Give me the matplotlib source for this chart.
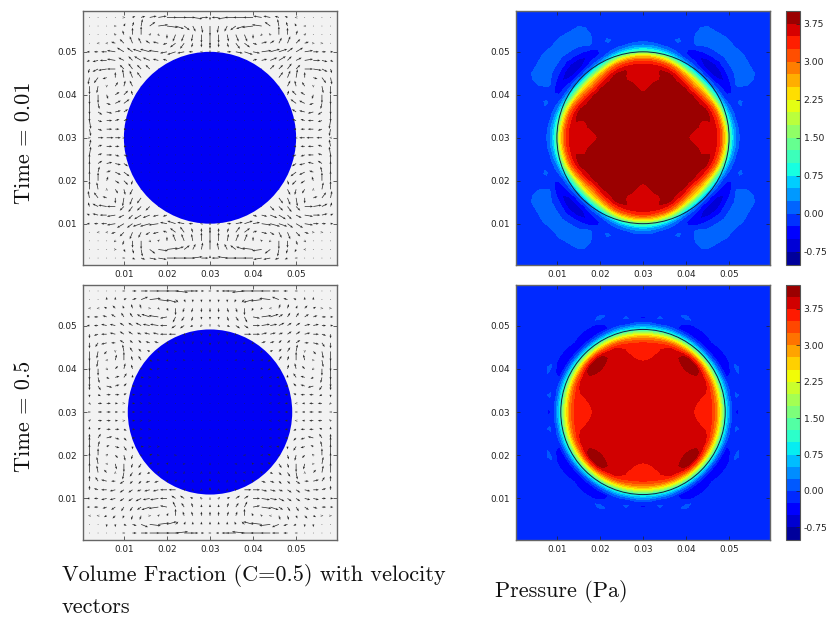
import numpy as np
import matplotlib
matplotlib.use('Agg')
import matplotlib.pyplot as plt
from matplotlib.patches import Circle

W, H = 830, 617
xticks = [0.01, 0.02, 0.03, 0.04, 0.05]
cbar_ticks = [-0.75, 0.0, 0.75, 1.5, 2.25, 3.0, 3.75]
levels_top = np.arange(-1.0, 4.01, 0.25)
levels_bot = np.arange(-1.0, 4.26, 0.25)
radius_top = 0.0200
radius_bot = 0.0191
center = 0.03

# velocity samples, top-left quadrant, rows y=.058..030, columns x=.002...030
U1 = [[0,0,0,0,1,2,3,5,6,7,8,8,7,5,0],
      [0,0,0,1,1,1,1,4,7,8,6,4,2,1,0],
      [0,0,0,-1,-1,0,0,1,1,0,-2,-2,-1,0,0],
      [0,-1,-1,-3,-3,-2,-2,-3,-4,-3,-4,-3,-1,0,0],
      [-2,-3,-4,-6,-5,-4,-6,-7,-7,-5,-6,-5,-3,-1,0],
      [-2,-4,-5,-6,-4,-3,-5,-5,-4,-3,0,0,0,0,0],
      [-1,-4,-6,-6,-3,-3,-3,-3,0,0,0,0,0,0,0],
      [-1,-3,-3,0,-1,-2,-3,0,0,0,0,0,0,0,0],
      [0,-1,0,2,1,-2,0,0,0,0,0,0,0,0,0],
      [0,0,1,3,3,-1,0,0,0,0,0,0,0,0,0],
      [0,1,3,4,4,0,0,0,0,0,0,0,0,0,0],
      [0,3,4,4,3,0,0,0,0,0,0,0,0,0,0],
      [1,3,4,3,3,0,0,0,0,0,0,0,0,0,0],
      [1,3,4,3,2,0,0,0,0,0,0,0,0,0,0],
      [1,4,5,4,1,0,0,0,0,0,0,0,0,0,0]]
V1 = [[0,0,0,0,0,1,1,1,1,0,0,0,-1,0,-2],
      [0,0,0,0,2,3,5,3,1,-1,-2,-3,-4,-5,-7],
      [0,0,0,1,3,5,6,1,-1,-3,-5,-5,-5,-6,-8],
      [0,0,0,1,3,5,4,2,1,-1,-3,-4,-3,-3,-4],
      [0,0,0,1,3,3,2,2,1,-1,-2,-1,0,0,-1],
      [-1,-1,0,1,2,3,3,2,1,1,0,0,0,0,0],
      [-3,-2,-1,0,3,4,3,3,0,0,0,0,0,0,0],
      [-5,-4,-1,4,6,5,4,0,0,0,0,0,0,0,0],
      [-6,-5,-1,3,4,4,0,0,0,0,0,0,0,0,0],
      [-7,-6,-3,2,3,3,0,0,0,0,0,0,0,0,0],
      [-8,-4,-1,2,3,0,0,0,0,0,0,0,0,0,0],
      [-7,-2,-1,1,2,0,0,0,0,0,0,0,0,0,0],
      [-6,-1,0,1,1,0,0,0,0,0,0,0,0,0,0],
      [-5,-1,0,0,0,0,0,0,0,0,0,0,0,0,0],
      [0,0,0,0,0,0,0,0,0,0,0,0,0,0,0]]
U2 = [[0,0,0,0,1,3,5,7,8,9,9,7,4,2,1],
      [0,0,0,0,2,3,5,8,8,7,2,1,0,0,0],
      [-1,-1,-2,-2,-1,-1,-1,1,1,1,0,-1,-1,0,0],
      [-2,-3,-3,-3,-2,-2,-3,-6,-7,-5,-2,-2,-1,0,0],
      [-2,-3,-4,-4,-3,-3,-4,-5,-6,-5,-3,-3,-2,-1,0],
      [0,-3,-4,-4,-3,-3,-3,-4,-4,-5,-5,1,0,0,0],
      [0,-2,-4,-3,-3,-2,-2,-3,-3,1,1,0,0,0,0],
      [0,-1,-2,0,-1,-2,-2,-2,1,1,1,0,0,0,0],
      [0,-1,-1,1,0,-1,-2,2,1,1,0,1,0,0,0],
      [0,0,1,2,1,-1,1,2,1,0,1,0,0,0,0],
      [0,1,2,3,2,0,2,1,1,0,0,0,0,0,0],
      [0,2,4,3,2,2,1,1,0,0,0,0,0,0,0],
      [0,2,3,3,2,2,1,1,0,0,0,0,0,0,0],
      [1,3,3,2,1,2,1,1,0,0,0,0,0,0,0],
      [1,3,3,2,1,2,1,1,0,0,0,0,0,0,0]]
V2 = [[0,0,0,0,0,0,0,0,0,0,-1,0,0,0,0],
      [0,0,2,2,1,1,2,1,-1,-2,-2,-2,-2,-2,-2],
      [0,0,1,2,2,3,3,0,-1,-2,-5,-3,-3,-3,-3],
      [0,0,1,2,3,3,2,2,1,-1,-4,-3,-3,-2,-2],
      [0,0,1,1,2,2,2,1,1,0,-2,-2,-1,-1,-1],
      [-3,-1,0,1,2,2,1,1,1,0,0,-1,-1,-1,-2],
      [-4,-3,-1,0,2,2,2,1,1,-1,-1,-1,-1,-1,-2],
      [-7,-5,-2,-1,5,3,2,1,-1,-1,0,-1,0,-1,-1],
      [-8,-5,0,4,6,3,3,-1,0,-1,0,0,0,0,-1],
      [-8,-5,-1,2,4,3,0,-1,0,0,0,0,0,0,0],
      [-7,-4,-1,1,3,2,0,0,0,0,0,0,0,0,0],
      [-3,-3,-1,1,2,0,0,0,0,0,0,0,0,0,0],
      [-2,-1,0,0,1,0,0,0,0,0,0,0,0,0,0],
      [-1,0,0,0,0,0,0,0,0,0,0,0,0,0,0],
      [0,0,0,0,0,0,0,0,0,0,0,0,0,0,0]]
grid_x = [0.002,0.004,0.006,0.008,0.010,0.012,0.014,0.016,0.018,0.020,0.022,0.024,0.026,0.028,0.030]
grid_y = [0.058,0.056,0.054,0.052,0.050,0.048,0.046,0.044,0.042,0.040,0.038,0.036,0.034,0.032,0.030]

# pressure samples: rows are angle from the x axis, columns are radius in mm
press_r = [0,5,9,11,13,14,15,16,17,18,19,20,21,22,23,24,25,27,29,31,36,45]
press_deg = [0,5,10,15,20,25,30,35,40,45]
P1 = [[3.9,3.9,3.85,3.72,3.65,3.63,3.62,3.6,3.55,3.2,2.4,1.25,.55,.05,-.1,-.1,-.1,-.1,-.1,-.1,-.1,-.1],
      [3.9,3.9,3.87,3.76,3.68,3.64,3.62,3.6,3.55,3.2,2.4,1.25,.5,.05,-.1,-.1,-.1,-.1,-.1,-.1,-.1,-.1],
      [3.9,3.9,3.88,3.85,3.73,3.68,3.68,3.65,3.52,3.15,2.3,1.15,.4,0,-.1,-.1,-.1,-.1,-.1,-.1,-.1,-.1],
      [3.9,3.9,3.9,3.88,3.85,3.72,3.74,3.78,3.5,3.08,2.2,1.0,.3,-.05,-.1,-.1,-.1,-.1,-.1,-.1,-.1,-.1],
      [3.9,3.9,3.9,3.9,3.88,3.86,3.85,3.8,3.45,2.98,2.0,.85,.15,-.1,-.1,.05,-.05,-.1,-.1,-.1,-.1,-.1],
      [3.9,3.9,3.9,3.9,3.88,3.86,3.85,3.74,3.33,2.75,1.7,.6,.02,-.2,-.2,-.15,-.05,-.05,-.1,-.1,-.1,-.1],
      [3.9,3.9,3.9,3.9,3.87,3.85,3.8,3.6,3.15,2.5,1.4,.4,-.1,-.3,-.35,-.2,.02,.1,.08,-.1,-.1,-.1],
      [3.9,3.9,3.9,3.9,3.87,3.84,3.77,3.5,3.0,2.3,1.25,.3,-.15,-.42,-.5,-.33,-.1,.1,.1,-.1,-.1,-.1],
      [3.9,3.9,3.9,3.9,3.87,3.83,3.76,3.4,2.9,2.25,1.15,.2,-.25,-.52,-.66,-.45,-.2,.1,.1,-.05,-.1,-.1],
      [3.9,3.9,3.9,3.9,3.87,3.82,3.73,3.3,2.75,2.25,1.1,.15,-.27,-.55,-.7,-.5,-.28,.05,.1,-.1,-.1,-.1]]
P2 = [[3.85,3.85,3.82,3.78,3.7,3.66,3.62,3.5,3.1,2.25,1.1,.35,-.2,-.3,-.1,-.1,-.1,-.1,-.1,-.1,-.1,-.1],
      [3.85,3.85,3.83,3.79,3.71,3.67,3.62,3.5,3.1,2.25,1.1,.35,-.15,-.2,-.1,-.1,-.1,-.1,-.1,-.1,-.1,-.1],
      [3.85,3.85,3.84,3.81,3.74,3.69,3.64,3.52,3.1,2.25,1.1,.3,-.28,.05,-.05,-.1,-.1,-.1,-.1,-.1,-.1,-.1],
      [3.85,3.85,3.85,3.84,3.81,3.76,3.72,3.58,3.15,2.3,1.15,.3,-.15,-.1,-.1,-.1,-.1,-.1,-.1,-.1,-.1,-.1],
      [3.85,3.85,3.85,3.85,3.85,3.85,3.84,3.7,3.2,2.3,1.1,.3,-.2,-.15,-.1,-.05,-.1,-.1,-.1,-.1,-.1,-.1],
      [3.85,3.85,3.85,3.85,3.85,3.87,3.88,3.76,3.25,2.35,1.1,.25,-.3,-.3,-.15,.1,-.1,-.1,-.1,-.1,-.1,-.1],
      [3.85,3.85,3.85,3.85,3.85,3.87,3.9,3.8,3.25,2.35,1.1,.2,-.3,-.35,-.28,-.1,-.1,-.1,-.1,-.1,-.1,-.1],
      [3.85,3.85,3.85,3.85,3.85,3.92,4.03,3.97,3.35,2.35,1.1,.2,-.35,-.4,-.3,-.1,-.1,-.1,-.1,-.1,-.1,-.1],
      [3.85,3.85,3.85,3.85,3.87,3.99,4.12,4.09,3.45,2.35,1.05,.15,-.35,-.45,-.28,-.1,-.1,-.1,-.1,-.1,-.1,-.1],
      [3.85,3.85,3.85,3.85,3.88,4.03,4.16,4.11,3.45,2.35,1.05,.15,-.35,-.4,-.2,-.1,-.1,-.1,-.1,-.1,-.1,-.1]]

time_labels = ['Time = 0.01', 'Time = 0.5']
caption_left = ['Volume Fraction (C=0.5) with velocity', 'vectors']
caption_right = 'Pressure (Pa)'


def box(x0, y0, x1, y1):
    return [x0 / W, 1 - y1 / H, (x1 - x0) / W, (y1 - y0) / H]


def style(ax):
    ax.set_xlim(0.0005, 0.0595)
    ax.set_ylim(0.0005, 0.0595)
    ax.set_xticks(xticks)
    ax.set_yticks(xticks)
    ax.set_xticklabels(['%.2f' % t for t in xticks])
    ax.set_yticklabels(['%.2f' % t for t in xticks])
    ax.tick_params(direction='in', length=2.6, width=0.5, top=True, right=True,
                   labelsize=6.4, pad=4, colors='#222222')
    for s in ax.spines.values():
        s.set_linewidth(1.0)
        s.set_color('#666666')


def vectors(ax, U, V):
    u = np.array(U, float)
    v = np.array(V, float)
    u_full = np.hstack([u, -u[:, -2::-1]])
    v_full = np.hstack([v, v[:, -2::-1]])
    u_full = np.vstack([u_full, u_full[-2::-1]])
    v_full = np.vstack([v_full, -v_full[-2::-1]])
    gx = np.array(grid_x)
    gy = np.array(grid_y)
    xs = np.concatenate([gx, 2 * center - gx[-2::-1]])
    ys = np.concatenate([gy, 2 * center - gy[-2::-1]])
    X, Y = np.meshgrid(xs, ys)
    ax.quiver(X, Y, u_full, v_full, angles='xy', scale_units='inches', scale=72,
              units='dots', width=0.72, headwidth=3.0, headlength=3.8, headaxislength=3.4,
              minshaft=0.4, minlength=1.1, color='#2a2a2a', zorder=3)


def volume(ax, radius, U, V):
    ax.set_facecolor('#f2f2f2')
    ax.add_patch(Circle((center, center), radius, facecolor='#0000f5', edgecolor='none', zorder=2))
    vectors(ax, U, V)
    style(ax)


def pressure(ax, cax, P, levels, radius):
    table = np.array(P, float)
    quarter = np.vstack([table, table[-2::-1]])
    half = np.vstack([quarter, quarter[-2::-1]])
    full = np.vstack([half, half[-2::-1]])
    step = press_deg[1]
    angles = np.radians(np.arange(full.shape[0]) * step)
    rr = np.array(press_r) * 1e-3
    T, R = np.meshgrid(angles, rr, indexing='ij')
    X = center + R * np.cos(T)
    Y = center + R * np.sin(T)
    cf = ax.contourf(X, Y, full, levels=levels, cmap='jet')
    ax.add_patch(Circle((center, center), radius, facecolor='none', edgecolor='#102040', linewidth=0.7, zorder=3))
    style(ax)
    cb = plt.colorbar(cf, cax=cax, ticks=cbar_ticks, format='%.2f')
    cb.ax.tick_params(direction='in', length=2.6, width=0.5, labelsize=6.7, pad=3, colors='#222222')
    cb.outline.set_linewidth(0.8)
    cb.outline.set_edgecolor('#555555')


fig = plt.figure(figsize=(W / 100, H / 100), dpi=100)
tl = fig.add_axes(box(83, 11, 337, 264.5))
tr = fig.add_axes(box(516, 11, 770, 264.5))
tc = fig.add_axes(box(786, 11, 799.5, 264.5))
bl = fig.add_axes(box(83, 284.5, 337, 539.5))
br = fig.add_axes(box(516, 284.5, 770, 539.5))
bc = fig.add_axes(box(786, 284.5, 799.5, 539.5))

volume(tl, radius_top, U1, V1)
volume(bl, radius_bot, U2, V2)
pressure(tr, tc, P1, levels_top, radius_top)
pressure(br, bc, P2, levels_bot, radius_bot)

serif = 'cmr10'
fig.text(24 / W, 1 - 142.5 / H, time_labels[0], rotation=90, family=serif, fontsize=16,
         ha='center', va='center', color='#111111')
fig.text(24 / W, 1 - 416 / H, time_labels[1], rotation=90, family=serif, fontsize=16,
         ha='center', va='center', color='#111111')
fig.text(62 / W, 1 - 581 / H, caption_left[0], family=serif, fontsize=16, ha='left',
         va='baseline', color='#111111')
fig.text(62 / W, 1 - 613 / H, caption_left[1], family=serif, fontsize=16, ha='left',
         va='baseline', color='#111111')
fig.text(495 / W, 1 - 597 / H, caption_right, family=serif, fontsize=16, ha='left',
         va='baseline', color='#111111')

fig.savefig('out.png', dpi=100)
